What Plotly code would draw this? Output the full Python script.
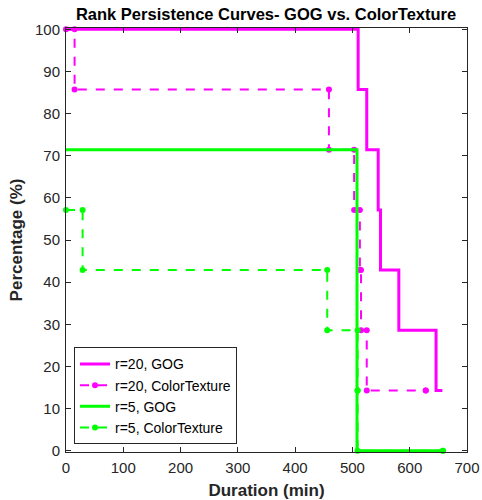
import plotly.graph_objects as go

# ---- data (step times in min, percentage after each step) ----
gog20_t = [0, 510, 525, 545, 549, 581, 646, 657]
gog20_v = [100, 85.71, 71.43, 57.14, 42.86, 28.57, 14.29, 14.29]

ct20_t = [0, 15, 459, 503, 513, 515, 525, 628]
ct20_v = [100, 85.71, 71.43, 57.14, 42.86, 28.57, 14.29, 14.29]

gog5_t = [0, 508, 658]
gog5_v = [71.43, 0, 0]

ct5_t = [0, 29, 456, 509, 509, 658]
ct5_v = [57.14, 42.86, 28.57, 14.29, 0, 0]

x_ticks = [0, 100, 200, 300, 400, 500, 600, 700]
y_ticks = [0, 10, 20, 30, 40, 50, 60, 70, 80, 90, 100]

MAGENTA = "#FF00FF"
GREEN = "#00FF00"
AX = "#262626"


def corners(t, v):
    """Expand step data into explicit staircase corner points."""
    xs, ys = [t[0]], [v[0]]
    for i in range(1, len(t)):
        xs += [t[i], t[i]]
        ys += [v[i - 1], v[i]]
    return xs, ys


fig = go.Figure()

fig.add_trace(go.Scatter(
    x=gog20_t, y=gog20_v, mode="lines", line_shape="hv",
    line=dict(color=MAGENTA, width=3), name="r=20, GOG"))

cx, cy = corners(ct20_t, ct20_v)
fig.add_trace(go.Scatter(
    x=cx, y=cy, mode="lines+markers",
    line=dict(color=MAGENTA, width=2, dash="dash"),
    marker=dict(color=MAGENTA, size=6), name="r=20, ColorTexture",
    cliponaxis=False))

fig.add_trace(go.Scatter(
    x=gog5_t, y=gog5_v, mode="lines", line_shape="hv",
    line=dict(color=GREEN, width=3), name="r=5, GOG"))

cx, cy = corners(ct5_t, ct5_v)
fig.add_trace(go.Scatter(
    x=cx, y=cy, mode="lines+markers",
    line=dict(color=GREEN, width=2, dash="dash"),
    marker=dict(color=GREEN, size=6), name="r=5, ColorTexture",
    cliponaxis=False))

axis_common = dict(
    showgrid=False, zeroline=False, showline=True, mirror="ticks",
    linecolor=AX, linewidth=1, ticks="inside", ticklen=5, tickcolor=AX,
    automargin=False, ticklabelstandoff=2,
    tickfont=dict(family="Liberation Sans, Arial, sans-serif", size=15, color=AX),
)

fig.update_layout(
    width=482, height=500,
    margin=dict(l=66, r=15, t=28, b=48, autoexpand=False),
    paper_bgcolor="white", plot_bgcolor="white",
    font=dict(family="Liberation Sans, Arial, sans-serif", color=AX),
    title=dict(text="<b>Rank Persistence Curves- GOG vs. ColorTexture</b>",
               x=0.552, xanchor="center", y=0.971, yanchor="middle",
               font=dict(size=16.5, color="black"), automargin=False),
    xaxis=dict(range=[0, 700], tickvals=x_ticks,
               title=dict(text="<b>Duration (min)</b>", standoff=9,
                          font=dict(size=17, color=AX)),
               **axis_common),
    yaxis=dict(range=[-0.3, 100.3], tickvals=y_ticks,
               title=dict(text="<b>Percentage (%)</b>", standoff=8,
                          font=dict(size=17, color=AX)),
               **axis_common),
    legend=dict(x=0.02, y=0.018, xanchor="left", yanchor="bottom",
                bgcolor="white", bordercolor=AX, borderwidth=1,
                font=dict(size=14, color="black"),
                tracegroupgap=0, itemwidth=30),
    showlegend=True,
)

fig.write_html(
    "out.html",
    config={"displayModeBar": False},
    post_script="document.body.style.margin='0';document.body.style.overflow='hidden';",
)
